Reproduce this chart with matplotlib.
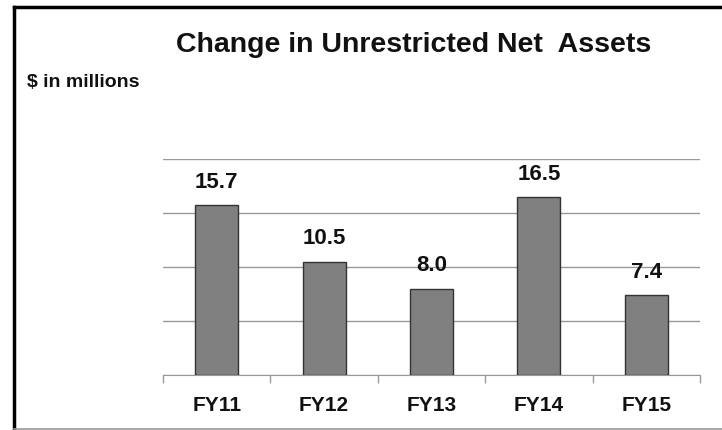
import matplotlib.pyplot as plt
import matplotlib.lines as mlines

years = ["FY11", "FY12", "FY13", "FY14", "FY15"]
values = [15.7, 10.5, 8.0, 16.5, 7.4]
grid_ticks = [0, 5, 10, 15, 20]

plt.rcParams['font.family'] = ['Liberation Sans', 'DejaVu Sans']

fig = plt.figure(figsize=(7.22, 4.30), dpi=100, facecolor='white')
ax = fig.add_axes([163 / 722, 1 - 375 / 430, (700 - 163) / 722, (375 - 159) / 430])

x = range(len(years))
ax.bar(x, values, width=0.4, color='#808080', edgecolor='#333333', linewidth=1, zorder=3)
for xi, v in zip(x, values):
    ax.text(xi, v + 1.6, f"{v:.1f}", ha='center', va='baseline',
            fontsize=16, fontweight='bold', color='#111111', zorder=4)

ax.set_xlim(-0.5, len(years) - 0.5)
ax.set_ylim(0, 20)
ax.set_yticks(grid_ticks)
ax.yaxis.grid(True, color='#999999', linewidth=1, zorder=0)
ax.tick_params(axis='y', left=False, labelleft=False)

# category boundary ticks below the baseline
ax.set_xticks([i - 0.5 for i in range(len(years) + 1)])
ax.set_xticklabels([])
ax.tick_params(axis='x', direction='out', length=6, color='#999999', width=1)
for xi, name in zip(x, years):
    ax.text(xi, -3.35, name, ha='center', va='baseline', fontsize=15,
            fontweight='bold', color='#111111')

for s in ['top', 'right', 'left']:
    ax.spines[s].set_visible(False)
ax.spines['bottom'].set_color('#999999')

fig.text(414 / 722, 1 - 52 / 430, "Change in Unrestricted Net  Assets", ha='center', va='baseline',
         fontsize=20.5, fontweight='bold', color='#111111')
fig.text(27 / 722, 1 - 87 / 430, "$ in millions", ha='left', va='baseline',
         fontsize=14, fontweight='bold', color='#111111')

# frame: black left and top, grey bottom
fig.add_artist(mlines.Line2D([14 / 722, 14 / 722], [0, 1 - 7 / 430], color='black', linewidth=2.5,
                             transform=fig.transFigure))
fig.add_artist(mlines.Line2D([14 / 722, 1], [1 - 7 / 430, 1 - 7 / 430], color='black', linewidth=2.5,
                             transform=fig.transFigure))
fig.add_artist(mlines.Line2D([14 / 722, 1], [1.5 / 430, 1.5 / 430], color='#999999', linewidth=1.2,
                             transform=fig.transFigure))

fig.savefig("out.png", dpi=100, facecolor='white')
